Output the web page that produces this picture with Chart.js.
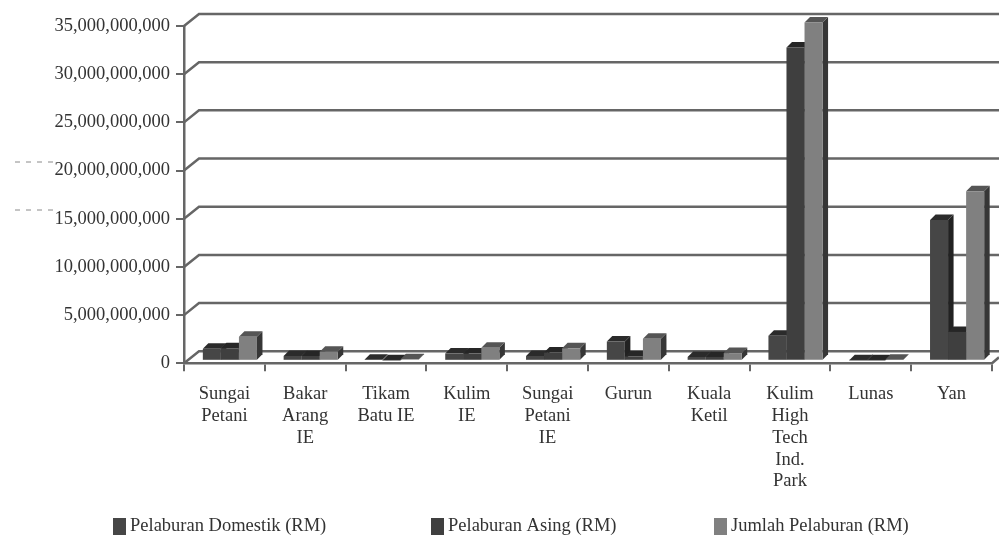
<!DOCTYPE html>
<html>
<head>
<meta charset="utf-8">
<script src="https://cdn.jsdelivr.net/npm/chart.js@4"></script>
<style>
  html, body { margin: 0; padding: 0; background: #fff; }
  canvas { display: block; }
</style>
</head>
<body>
<canvas id="chart" width="999" height="536"></canvas>
<script>
const categories = [
  ['Sungai', 'Petani'],
  ['Bakar', 'Arang', 'IE'],
  ['Tikam', 'Batu IE'],
  ['Kulim', 'IE'],
  ['Sungai', 'Petani', 'IE'],
  'Gurun',
  ['Kuala', 'Ketil'],
  ['Kulim', 'High', 'Tech', 'Ind.', 'Park'],
  'Lunas',
  'Yan'
];
const seriesNames = ['Pelaburan Domestik (RM)', 'Pelaburan Asing (RM)', 'Jumlah Pelaburan (RM)'];
const domestik = [1.24e9, 0.5e9, 0.1e9, 0.75e9, 0.5e9, 2.0e9, 0.4e9, 2.6e9, 0.05e9, 14.6e9];
const asing = [1.3e9, 0.5e9, 0.05e9, 0.75e9, 0.85e9, 0.45e9, 0.4e9, 32.5e9, 0.05e9, 3.0e9];
const jumlah = [2.5e9, 0.95e9, 0.15e9, 1.35e9, 1.3e9, 2.3e9, 0.8e9, 35.1e9, 0.1e9, 17.6e9];

const FONT = '"Liberation Serif", "Times New Roman", serif';
const INK = '#333333';
const AXIS = '#666666';
// back wall sits this far from the front axis
const WALL_X = 15, WALL_Y = -12;
// bars stand a bit inside the floor
const BAR_X = 5.5, BAR_Y = -2.5, DEPTH = 5.5;

const faces = [
  { front: '#464646', top: '#2b2b2b', side: '#222222' },
  { front: '#3f3f3f', top: '#262626', side: '#222222' },
  { front: '#808080', top: '#555555', side: '#363636' }
];

// fake 3d: wall lines, floor, and the little slanted joints at the axis
const wallPlugin = {
  id: 'wall',
  beforeDatasetsDraw(chart) {
    const { ctx, scales, chartArea } = chart;
    ctx.save();
    ctx.strokeStyle = AXIS;
    ctx.lineWidth = 2.5;
    scales.y.ticks.forEach(t => {
      const y = scales.y.getPixelForValue(t.value);
      ctx.beginPath();
      ctx.moveTo(chartArea.left, y);
      ctx.lineTo(chartArea.left + WALL_X, y + WALL_Y);
      ctx.lineTo(chart.width, y + WALL_Y);
      ctx.stroke();
    });
    ctx.beginPath();
    ctx.moveTo(chartArea.right, chartArea.bottom);
    ctx.lineTo(chart.width, chartArea.bottom - 6);
    ctx.stroke();
    ctx.restore();
  }
};

// tops and sides go down first, left to right, so the next bar's front hides them
const barPlugin = {
  id: 'bar3d',
  beforeDatasetsDraw(chart) {
    const { ctx } = chart;
    ctx.save();
    ctx.translate(BAR_X, BAR_Y);
    chart.data.labels.forEach((_, n) => {
      faces.forEach((face, i) => {
        const bar = chart.getDatasetMeta(i).data[n];
        const l = bar.x - bar.width / 2, r = bar.x + bar.width / 2;
        ctx.fillStyle = face.side;
        ctx.beginPath();
        ctx.moveTo(r, bar.y);
        ctx.lineTo(r + DEPTH, bar.y - DEPTH);
        ctx.lineTo(r + DEPTH, bar.base - DEPTH);
        ctx.lineTo(r, bar.base);
        ctx.fill();
        ctx.fillStyle = face.top;
        ctx.beginPath();
        ctx.moveTo(l, bar.y);
        ctx.lineTo(l + DEPTH, bar.y - DEPTH);
        ctx.lineTo(r + DEPTH, bar.y - DEPTH);
        ctx.lineTo(r, bar.y);
        ctx.fill();
      });
    });
    ctx.restore();
  },
  beforeDatasetDraw(chart) {
    chart.ctx.save();
    chart.ctx.translate(BAR_X, BAR_Y);
  },
  afterDatasetDraw(chart) {
    chart.ctx.restore();
  }
};

const legendPlugin = {
  id: 'legendRow',
  afterDraw(chart) {
    const { ctx } = chart;
    const starts = [113, 431, 714];
    ctx.save();
    ctx.font = '18.5px ' + FONT;
    ctx.textBaseline = 'middle';
    chart.data.datasets.forEach((ds, i) => {
      ctx.fillStyle = ds.backgroundColor;
      ctx.fillRect(starts[i], 518, 13, 17);
      ctx.fillStyle = INK;
      ctx.fillText(ds.label, starts[i] + 17, 526);
    });
    // scan marks left of the axis labels
    ctx.strokeStyle = '#8a8a8a';
    ctx.lineWidth = 1;
    ctx.setLineDash([5, 6]);
    [162, 210].forEach(y => {
      ctx.beginPath();
      ctx.moveTo(15, y);
      ctx.lineTo(54, y);
      ctx.stroke();
    });
    ctx.restore();
  }
};

new Chart(document.getElementById('chart'), {
  type: 'bar',
  data: {
    labels: categories,
    datasets: [
      { label: seriesNames[0], data: domestik, backgroundColor: faces[0].front, clip: false },
      { label: seriesNames[1], data: asing, backgroundColor: faces[1].front, clip: false },
      { label: seriesNames[2], data: jumlah, backgroundColor: faces[2].front, clip: false }
    ]
  },
  options: {
    responsive: false,
    animation: false,
    layout: { padding: { top: 26, right: 7, left: 0, bottom: 0 } },
    datasets: { bar: { barPercentage: 1, categoryPercentage: 0.67 } },
    plugins: { legend: { display: false }, tooltip: { enabled: false } },
    scales: {
      x: {
        afterFit(scale) { scale.height = 536 - 363.3; },
        border: { color: AXIS, width: 2.5 },
        grid: { drawOnChartArea: false, color: AXIS, lineWidth: 2, tickLength: 8 },
        ticks: {
          color: INK, padding: 12, maxRotation: 0, autoSkip: false,
          font: { family: FONT, size: 18.5, lineHeight: 1.18 }
        }
      },
      y: {
        min: 0,
        max: 35000000000,
        afterFit(scale) { scale.width = 184; },
        border: { color: AXIS, width: 2.5 },
        grid: { drawOnChartArea: false, color: AXIS, lineWidth: 2, tickLength: 8 },
        ticks: {
          stepSize: 5000000000, color: INK, padding: 6,
          font: { family: FONT, size: 18.5 },
          callback: v => v.toLocaleString('en-US')
        }
      }
    }
  },
  plugins: [wallPlugin, barPlugin, legendPlugin]
});
</script>
</body>
</html>
